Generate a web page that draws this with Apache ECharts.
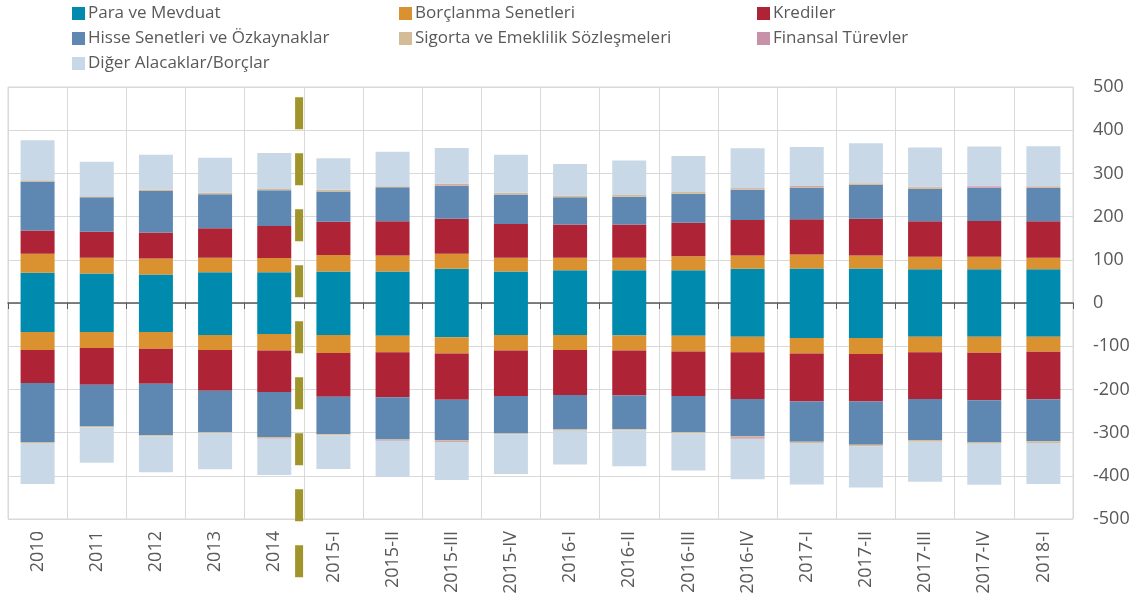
<!DOCTYPE html>
<html>
<head>
<meta charset="utf-8">
<script src="https://cdn.jsdelivr.net/npm/echarts@6/dist/echarts.min.js"></script>
<style>
html,body{margin:0;padding:0;background:#fff;}
#chart{width:1140px;height:607px;}
</style>
</head>
<body>
<div id="chart"></div>
<script>
// ---- data ----
const categories = ['2010','2011','2012','2013','2014','2015-I','2015-II','2015-III','2015-IV','2016-I','2016-II','2016-III','2016-IV','2017-I','2017-II','2017-III','2017-IV','2018-I'];
const seriesNames = ['Para ve Mevduat','Borçlanma Senetleri','Krediler','Hisse Senetleri ve Özkaynaklar','Sigorta ve Emeklilik Sözleşmeleri','Finansal Türevler','Diğer Alacaklar/Borçlar'];

// assets (positive side)
const paraPos     = [70, 68, 66, 71, 71, 73, 73, 79, 73, 76, 76, 76, 79, 80, 80, 78, 78, 78];
const borcPos     = [44, 37, 37, 34, 33, 38, 37, 35, 32, 29, 29, 32, 31, 32, 30, 29, 29, 27];
const krediPos    = [54, 60, 60, 68, 74, 77, 79, 81, 78, 77, 77, 78, 82, 82, 85, 82, 83, 84];
const hissePos    = [113, 80, 96, 79, 83, 70, 79, 76, 68, 63, 64, 67, 70, 72, 78, 75, 76, 77];
const sigortaPos  = [3, 2, 4, 3, 3, 4, 2, 3, 4, 4, 4, 4, 3, 3, 4, 4, 1, 3];
const turevPos    = [0, 0, 0, 0, 0, 0, 0, 2, 0, 0, 0, 0, 1, 2, 0, 1, 3, 1];
const digerPos    = [93, 80, 80, 81, 83, 73, 80, 83, 88, 73, 80, 83, 92, 90, 93, 91, 92, 93];

// liabilities (negative side)
const paraNeg     = [-67, -67, -67, -74, -72, -74, -76, -79, -74, -74, -75, -76, -78, -81, -81, -78, -78, -78];
const borcNeg     = [-42, -37, -39, -35, -38, -42, -38, -38, -36, -35, -35, -36, -36, -36, -37, -36, -37, -35];
const krediNeg    = [-76, -85, -81, -94, -96, -101, -104, -107, -105, -104, -104, -103, -108, -111, -110, -108, -110, -110];
const hisseNeg    = [-137, -97, -119, -96, -104, -87, -98, -93, -87, -80, -78, -84, -86, -93, -100, -95, -98, -97];
const sigortaNeg  = [-2, -2, -3, -2, -3, -3, -1, -3, -2, -3, -3, -3, -3, -3, -4, -4, -3, -4];
const turevNeg    = [0, 0, 0, 0, -1, 0, -2, -2, 0, 0, 0, 0, -3, 0, 0, 0, 0, 0];
const digerNeg    = [-95, -82, -83, -84, -84, -77, -84, -88, -92, -78, -83, -86, -94, -96, -95, -93, -95, -95];

// y axis ticks
const yMin = -500, yMax = 500, yStep = 100;

// separator between annual and quarterly data (category index position, value range)
const separatorAt = 4.42;
const separatorRange = [476, -637];

// ---- styling ----
const colors = ['#008aad', '#da9130', '#ae2436', '#5e87b1', '#d4bc98', '#c990a9', '#c9d8e6'];
const posData = [paraPos, borcPos, krediPos, hissePos, sigortaPos, turevPos, digerPos];
const negData = [paraNeg, borcNeg, krediNeg, hisseNeg, sigortaNeg, turevNeg, digerNeg];
const FONT = '"Open Sans", sans-serif';
const TXT = '#595959';

const series = [];
function addBars(dataArr) {
  dataArr.forEach((d, i) => {
    series.push({
      name: seriesNames[i],
      type: 'bar',
      stack: 'total',
      xAxisIndex: 0,
      yAxisIndex: 0,
      barWidth: 34,
      data: d,
      itemStyle: { color: colors[i] },
      emphasis: { disabled: true },
      silent: true
    });
  });
}
addBars(posData);
addBars(negData);

series.push({
  name: 'separator',
  type: 'line',
  xAxisIndex: 2,
  yAxisIndex: 0,
  clip: false,
  symbol: 'none',
  silent: true,
  z: 10,
  data: [[separatorAt, separatorRange[0]], [separatorAt, separatorRange[1]]],
  lineStyle: { color: '#a0952a', width: 8, type: [32, 24], cap: 'butt' }
});

const legendBase = {
  orient: 'vertical',
  top: 5,
  padding: 0,
  itemWidth: 13,
  itemHeight: 13,
  itemGap: 8,
  icon: 'rect',
  selectedMode: false,
  textStyle: { fontFamily: FONT, fontSize: 17, color: TXT, padding: [0, 0, 0, -2] }
};

const option = {
  animation: false,
  color: colors,
  legend: [
    Object.assign({}, legendBase, { left: 72, data: [seriesNames[0], seriesNames[3], seriesNames[6]] }),
    Object.assign({}, legendBase, { left: 399, data: [seriesNames[1], seriesNames[4]] }),
    Object.assign({}, legendBase, { left: 757, data: [seriesNames[2], seriesNames[5]] })
  ],
  grid: {
    left: 8, right: 67, top: 87, bottom: 88,
    show: true, borderColor: '#d9d9d9', borderWidth: 1,
    containLabel: false, outerBoundsMode: 'none'
  },
  xAxis: [
    {
      type: 'category',
      data: categories,
      position: 'bottom',
      axisLine: { show: false, onZero: false },
      axisTick: { show: false },
      axisLabel: { interval: 0, rotate: 90, margin: 12, fontFamily: FONT, fontSize: 18, color: TXT },
      splitLine: { show: true, lineStyle: { color: '#d9d9d9', width: 1 } }
    },
    {
      type: 'category',
      data: categories,
      position: 'bottom',
      axisLine: { show: true, onZero: true, lineStyle: { color: '#595959', width: 1.5 } },
      axisTick: { show: true, length: 6, lineStyle: { color: '#595959', width: 1 } },
      axisLabel: { show: false },
      splitLine: { show: false }
    },
    {
      type: 'value',
      show: false,
      min: -0.5,
      max: categories.length - 0.5
    }
  ],
  yAxis: {
    type: 'value',
    position: 'right',
    min: yMin, max: yMax, interval: yStep,
    axisLine: { show: false },
    axisTick: { show: false },
    axisLabel: { margin: 20, fontFamily: FONT, fontSize: 18, color: TXT },
    splitLine: { lineStyle: { color: '#d9d9d9', width: 1 } }
  },
  series: series
};

const chart = echarts.init(document.getElementById('chart'), null, { renderer: 'canvas' });
chart.setOption(option);
</script>
</body>
</html>
